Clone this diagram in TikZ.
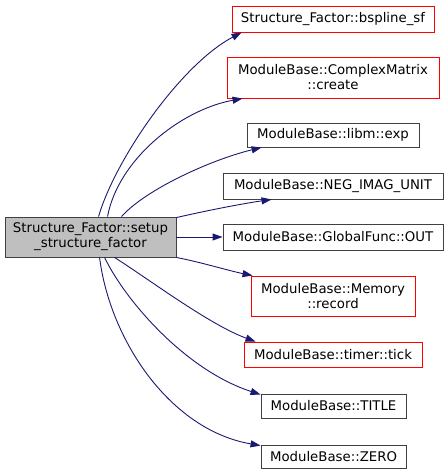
\documentclass[tikz,border=0pt]{standalone}
\usepackage{fontspec}
\setmainfont{DejaVu Sans}
\usetikzlibrary{arrows.meta}
\definecolor{edgeblue}{HTML}{191970}
\definecolor{boxred}{HTML}{FF0000}
\definecolor{boxgray}{HTML}{404040}
\definecolor{mainfill}{HTML}{BFBFBF}
\tikzset{
  fnbox/.style={draw=boxgray, line width=0.9pt, fill=white, inner sep=0pt, align=center, font=\fontsize{13.3}{15}\selectfont},
  redbox/.style={fnbox, draw=boxred},
  mainbox/.style={fnbox, fill=mainfill},
  call/.style={draw=edgeblue, line width=0.9pt, -{Triangle[length=10pt,width=7pt]}, edgeblue},
}
\begin{document}
\begin{tikzpicture}[x=1pt,y=-1pt]
\useasboundingbox (0,0) rectangle (448,475);
\node[mainbox, minimum width=171pt, minimum height=40pt] (main) at (90.5,237) {Structure\_Factor::setup\\\_structure\_factor};
\node[redbox, minimum width=202pt, minimum height=26pt] (n1) at (333,19) {Structure\_Factor::bspline\_sf};
\node[redbox, minimum width=212pt, minimum height=41pt] (n2) at (333,77.5) {ModuleBase::ComplexMatrix\\::create};
\node[fnbox, minimum width=172pt, minimum height=24pt] (n3) at (333,135) {ModuleBase::libm::exp};
\node[fnbox, minimum width=220pt, minimum height=26pt] (n4) at (333,186) {ModuleBase::NEG\_IMAG\_UNIT};
\node[fnbox, minimum width=220pt, minimum height=26pt] (n5) at (333,237) {ModuleBase::GlobalFunc::OUT};
\node[redbox, minimum width=164pt, minimum height=40pt] (n6) at (333,296) {ModuleBase::Memory\\::record};
\node[redbox, minimum width=178pt, minimum height=25pt] (n7) at (333,354.5) {ModuleBase::timer::tick};
\node[fnbox, minimum width=145pt, minimum height=24pt] (n8) at (333.5,406) {ModuleBase::TITLE};
\node[fnbox, minimum width=145pt, minimum height=23pt] (n9) at (333.5,456.5) {ModuleBase::ZERO};

\draw[call] ([xshift=94pt]main.north west) .. controls (115,160) and (180,65) .. ([xshift=10pt]n1.south west);
\draw[call] ([xshift=103pt]main.north west) .. controls (118,160) and (180,110) .. ([xshift=16pt]n2.south west);
\draw[call] ([xshift=117pt]main.north west) .. controls (145,190) and (210,160) .. ([xshift=15pt]n3.south west);
\draw[call] ([yshift=-1pt]main.north east) .. controls (205,211) and (240,204) .. ([xshift=49pt]n4.south west);
\draw[call] (main.east) -- (n5.west);
\draw[call] (main.south east) .. controls (200,262) and (230,271) .. ([xshift=2pt]n6.north west);
\draw[call] ([xshift=110pt]main.south west) .. controls (150,280) and (210,325) .. ([xshift=12pt]n7.north west);
\draw[call] ([xshift=100pt]main.south west) .. controls (125,300) and (185,370) .. ([yshift=-1pt]n8.north west);
\draw[call] ([xshift=95pt]main.south west) .. controls (110,340) and (170,430) .. ([yshift=-1pt]n9.north west);
\end{tikzpicture}
\end{document}
